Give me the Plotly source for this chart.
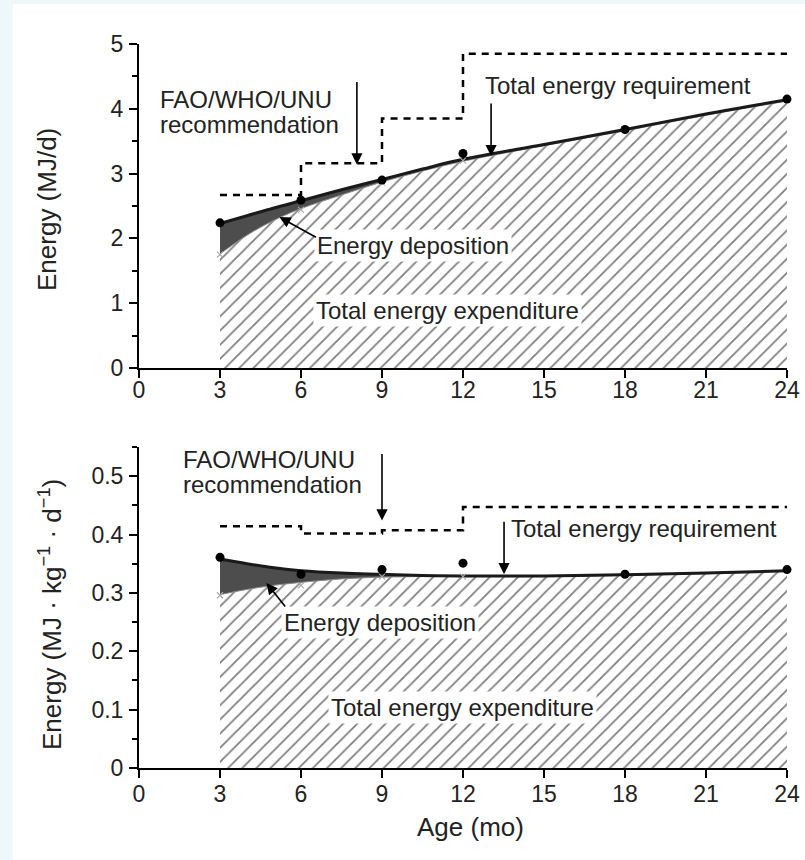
import plotly.graph_objects as go
from plotly.subplots import make_subplots

# ---------------- data ----------------
AGE_CURVE = [3, 4, 5, 6, 7.5, 9, 10.5, 12, 15, 18, 21, 24]
TEE_MJ = [1.76, 2.05, 2.28, 2.46, 2.67, 2.87, 3.04, 3.19, 3.43, 3.66, 3.90, 4.12]
TER_MJ = [2.23, 2.35, 2.47, 2.58, 2.75, 2.91, 3.07, 3.22, 3.45, 3.68, 3.92, 4.14]
TEE_KG = [0.297, 0.306, 0.313, 0.318, 0.324, 0.327, 0.328, 0.328, 0.328, 0.330, 0.333, 0.337]
TER_KG = [0.358, 0.350, 0.343, 0.338, 0.334, 0.332, 0.330, 0.329, 0.329, 0.331, 0.334, 0.338]

AGE_OBS = [3, 6, 9, 12, 18, 24]
OBS_MJ = [2.24, 2.59, 2.90, 3.31, 3.68, 4.15]
OBS_KG = [0.361, 0.332, 0.340, 0.351, 0.332, 0.340]

AGE_TEE_OBS = [3, 6, 9, 12]
TEE_OBS_MJ = [1.75, 2.44, 2.86, 3.20]
TEE_OBS_KG = [0.296, 0.313, 0.328, 0.328]

AGE_STEP = [3, 6, 9, 12, 24]
FAO_MJ = [2.67, 3.16, 3.85, 4.85, 4.85]
FAO_KG = [0.414, 0.402, 0.4075, 0.447, 0.447]

X_TICKS = [0, 3, 6, 9, 12, 15, 18, 21, 24]
Y_TICKS_MJ = [0, 1, 2, 3, 4, 5]
Y_TICKS_KG = [0, 0.1, 0.2, 0.3, 0.4, 0.5]
Y_TICKTEXT_KG = ["0", "0.1", "0.2", "0.3", "0.4", "0.5"]

W, H = 805, 860
FONT = "Liberation Sans, Arial, Helvetica, sans-serif"
TXT = "#222222"
LBL = 24
TICK = 23
TITLE = 26


def px(x):
    return x / W


def py(y):
    return 1 - y / H


fig = make_subplots(rows=2, cols=1)


def add_panel(row, tee, ter, obs, tee_obs, fao):
    fig.add_trace(go.Scatter(
        x=AGE_CURVE, y=tee, mode="lines", line=dict(color="#8a8a8a", width=1, shape="spline"),
        fill="tozeroy", fillcolor="white",
        fillpattern=dict(shape="/", size=10, solidity=0.18, fgcolor="#000000", bgcolor="white"),
        showlegend=False, hoverinfo="skip"), row=row, col=1)
    fig.add_trace(go.Scatter(
        x=AGE_CURVE, y=ter, mode="lines", line=dict(color="#1a1a1a", width=3, shape="spline"),
        fill="tonexty", fillcolor="#4d4d4d",
        showlegend=False, hoverinfo="skip"), row=row, col=1)
    fig.add_trace(go.Scatter(
        x=AGE_STEP, y=fao, mode="lines",
        line=dict(color="black", width=2.5, dash="7px,6px", shape="hv"),
        showlegend=False, hoverinfo="skip"), row=row, col=1)
    fig.add_trace(go.Scatter(
        x=AGE_TEE_OBS, y=tee_obs, mode="markers",
        marker=dict(symbol="x-thin-open", size=6, color="#aaaaaa", line=dict(color="#aaaaaa", width=1.2)),
        showlegend=False, hoverinfo="skip", cliponaxis=False), row=row, col=1)
    fig.add_trace(go.Scatter(
        x=AGE_OBS, y=obs, mode="markers",
        marker=dict(symbol="circle", size=9, color="black"),
        showlegend=False, hoverinfo="skip", cliponaxis=False), row=row, col=1)


add_panel(1, TEE_MJ, TER_MJ, OBS_MJ, TEE_OBS_MJ, FAO_MJ)
add_panel(2, TEE_KG, TER_KG, OBS_KG, TEE_OBS_KG, FAO_KG)

xdom = [px(139), px(787)]
axis_common = dict(showline=True, linecolor="black", linewidth=2, showgrid=False, zeroline=False,
                   ticks="outside", tickcolor="black", tickwidth=2, automargin=False,
                   tickfont=dict(family=FONT, size=TICK, color=TXT))

fig.update_xaxes(range=[0, 24], domain=xdom, tickvals=X_TICKS, ticklen=8, **axis_common)
fig.update_xaxes(row=1, col=1, ticklabelstandoff=-8)
fig.update_xaxes(row=2, col=1, ticklabelstandoff=-4)
fig.update_yaxes(**axis_common)
fig.update_yaxes(row=1, col=1, range=[0, 5], domain=[py(368), py(44)], tickvals=Y_TICKS_MJ,
                 ticklen=8, ticklabelstandoff=1,
                 minor=dict(dtick=0.5, ticks="outside", ticklen=5, tickcolor="black", tickwidth=1.5))
fig.update_yaxes(row=2, col=1, range=[0, 0.55], domain=[py(768), py(447)], tickvals=Y_TICKS_KG,
                 ticktext=Y_TICKTEXT_KG, ticklen=8, ticklabelstandoff=1,
                 minor=dict(dtick=0.05, ticks="outside", ticklen=5, tickcolor="black", tickwidth=1.5))

ann = []


def label(text, x_px, y_px, bg=None, anchor="left"):
    d = dict(text=text, x=px(x_px), y=py(y_px), xref="paper", yref="paper", showarrow=False,
             xanchor=anchor, yanchor="middle", font=dict(family=FONT, size=LBL, color=TXT))
    if bg:
        d.update(bgcolor=bg, borderpad=2)
    ann.append(d)


def arrow(xref, yref, x, y, ax, ay):
    ann.append(dict(text="", x=x, y=y, xref=xref, yref=yref, ax=ax, ay=ay, showarrow=True,
                    arrowhead=2, arrowsize=1.4, arrowwidth=1.6, arrowcolor="black", standoff=0))


# top panel labels
label("FAO/WHO/UNU", 158, 100)
label("recommendation", 158, 124)
arrow("x", "y", 8.07, 3.14, 0, -84)
label("Total energy requirement", 483, 86)
arrow("x", "y", 13.04, 3.27, 0, -54)
label("Energy deposition", 314, 245, bg="white")
arrow("x", "y", 5.2, 2.33, 38, 21)
label("Total energy expenditure", 313, 310, bg="white")

# bottom panel labels
label("FAO/WHO/UNU", 181, 459)
label("recommendation", 181, 484)
arrow("x2", "y2", 9.0, 0.424, 0, -68)
label("Total energy requirement", 509, 528)
arrow("x2", "y2", 13.52, 0.332, 0, -54)
label("Energy deposition", 281, 622, bg="white")
arrow("x2", "y2", 4.72, 0.317, 20, 25)
label("Total energy expenditure", 328, 707, bg="white")

# axis titles
ann.append(dict(text="Energy (MJ/d)", x=px(47), y=py(210), xref="paper", yref="paper",
                showarrow=False, textangle=-90, xanchor="center", yanchor="middle",
                font=dict(family=FONT, size=TITLE, color=TXT)))
ann.append(dict(text="Energy (MJ · kg<sup>−1</sup> · d<sup>−1</sup>)", x=px(50), y=py(615),
                xref="paper", yref="paper", showarrow=False, textangle=-90,
                xanchor="center", yanchor="middle", font=dict(family=FONT, size=TITLE, color=TXT)))
ann.append(dict(text="Age (mo)", x=px(470), y=py(827), xref="paper", yref="paper",
                showarrow=False, xanchor="center", yanchor="middle",
                font=dict(family=FONT, size=TITLE, color=TXT)))

fig.update_layout(
    width=W, height=H, margin=dict(l=0, r=0, t=0, b=0, autoexpand=False),
    paper_bgcolor="#eef7fa", plot_bgcolor="white",
    annotations=ann,
    shapes=[dict(type="rect", xref="paper", yref="paper", x0=px(13), x1=1.0, y0=0, y1=py(4),
                 fillcolor="white", line=dict(width=0), layer="below")],
)

fig.write_html("out.html", config={"displayModeBar": False},
               post_script="document.body.style.margin='0px';document.body.style.overflow='hidden';")
